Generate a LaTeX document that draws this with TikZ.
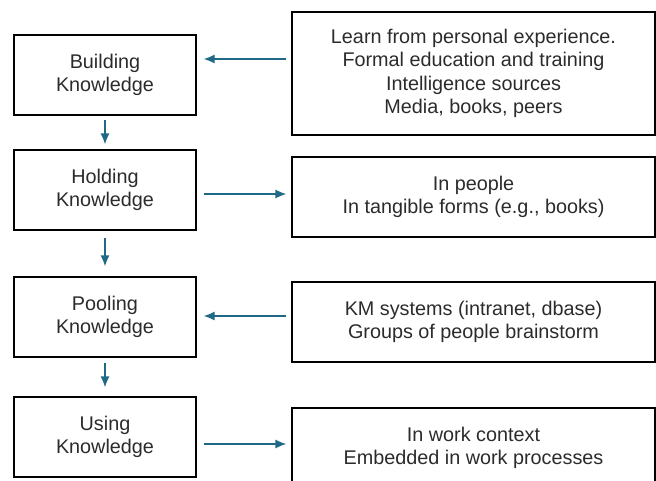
\documentclass[tikz,border=0pt]{standalone}
\usepackage{fontspec}
\setmainfont{Liberation Sans}
\usetikzlibrary{arrows.meta}
\definecolor{flowblue}{HTML}{1F6886}
\definecolor{txtgray}{HTML}{2B2B2B}
\tikzset{
  stage/.style={draw=black,line width=1.2pt,minimum width=182pt,minimum height=80pt,align=center,text=txtgray,font=\fontsize{19.8pt}{23.5pt}\selectfont,inner sep=0pt},
  note/.style={stage,minimum width=363pt},
  flow/.style={draw=flowblue,line width=1.5pt,-{Latex[length=11pt,width=9pt]}}
}
\begin{document}
\begin{tikzpicture}[x=1pt,y=-1pt]
\useasboundingbox (0,0) rectangle (656,480);
% stages of knowledge
\node[stage] (build) at (105,75) {Building\\Knowledge};
\node[stage] (hold) at (105,190) {Holding\\Knowledge};
\node[stage] (pool) at (105,317) {Pooling\\Knowledge};
\node[stage] (use) at (105,437) {Using\\Knowledge};
% notes on the right
\node[note,minimum height=123pt] (src) at (473.5,73.5) {Learn from personal experience.\\Formal education and training\\Intelligence sources\\Media, books, peers};
\node[note] (keep) at (473.5,197) {In people\\In tangible forms (e.g., books)};
\node[note] (share) at (473.5,322) {KM systems (intranet, dbase)\\Groups of people brainstorm};
\node[note] (apply) at (473.5,448) {In work context\\Embedded in work processes};
% vertical flow
\draw[flow,shorten <=4pt,shorten >=5pt] (build.south) -- (hold.north);
\draw[flow,shorten <=7pt,shorten >=10pt] (hold.south) -- (pool.north);
\draw[flow,shorten <=5pt,shorten >=9pt] (pool.south) -- (use.north);
% horizontal flow
\draw[flow,shorten <=5pt,shorten >=7pt] ([yshift=14.5pt]src.west) -- ([yshift=16pt]build.east);
\draw[flow,shorten <=7pt,shorten >=5pt] ([yshift=-4pt]hold.east) -- ([yshift=3pt]keep.west);
\draw[flow,shorten <=5pt,shorten >=7pt] ([yshift=6pt]share.west) -- ([yshift=1pt]pool.east);
\draw[flow,shorten <=7pt,shorten >=5pt] ([yshift=-7pt]use.east) -- ([yshift=4pt]apply.west);
\end{tikzpicture}
\end{document}
